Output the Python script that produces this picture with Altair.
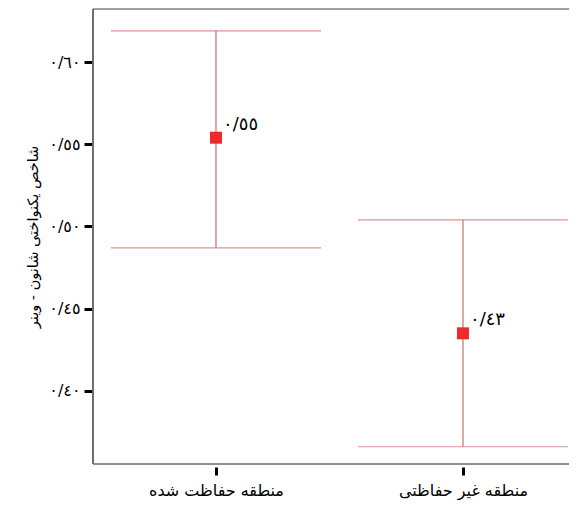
import altair as alt
import pandas as pd

categories = ["منطقه حفاظت شده", "منطقه غیر حفاظتی"]
means = [0.554, 0.435]
uppers = [0.619, 0.504]
lowers = [0.487, 0.366]
point_labels = ["٠/٥٥", "٠/٤٣"]

ytick_values = [0.40, 0.45, 0.50, 0.55, 0.60]
ytick_labels = ["٠/٤٠", "٠/٤٥", "٠/٥٠", "٠/٥٥", "٠/٦٠"]
y_title = "شاخص یکنواختی شانون - وینر"

df = pd.DataFrame({"cat": categories, "mean": means, "hi": uppers, "lo": lowers, "lab": point_labels})

label_expr = " : ".join(
    f"format(datum.value, '.2f') == '{v:.2f}' ? '{l}'" for v, l in zip(ytick_values, ytick_labels)
) + " : ''"

FONT = "DejaVu Sans"
W, H = 476, 455

x_enc = alt.X(
    "cat:N",
    sort=categories,
    scale=alt.Scale(type="point", padding=0.4636, align=0.537),
    axis=alt.Axis(
        title=None, domain=False, grid=False, labelAngle=0, offset=3,
        tickSize=8, tickWidth=3, tickColor="black", labelPadding=7,
        labelFontSize=16, labelFont=FONT, labelColor="black",
    ),
)
y_scale = alt.Scale(domain=[0.3555, 0.6323], nice=False, zero=False)

base = alt.Chart(df)

errbar = base.mark_rule(color="#c86a6a", strokeWidth=1.2).encode(
    x=x_enc,
    y=alt.Y(
        "lo:Q", scale=y_scale,
        axis=alt.Axis(
            title=y_title, values=ytick_values, labelExpr=label_expr, domain=False, grid=False,
            offset=1, tickSize=8, tickWidth=3, tickColor="black", labelPadding=4,
            labelFontSize=16, labelFont=FONT, labelColor="black",
            titleFont=FONT, titleFontSize=14.5, titleFontWeight="normal", titleColor="black",
            titlePadding=8,
        ),
    ),
    y2="hi:Q",
)
cap_hi = base.mark_tick(color="#c86a6a", size=210, thickness=1.2, orient="horizontal").encode(
    x=alt.X("cat:N", sort=categories), y=alt.Y("hi:Q", scale=y_scale))
cap_lo = base.mark_tick(color="#c86a6a", size=210, thickness=1.2, orient="horizontal").encode(
    x=alt.X("cat:N", sort=categories), y=alt.Y("lo:Q", scale=y_scale))
pts = base.mark_square(color="#ee2a2a", size=144, opacity=1).encode(
    x=alt.X("cat:N", sort=categories), y=alt.Y("mean:Q", scale=y_scale))
txt = base.mark_text(align="left", baseline="middle", dx=7, dy=-13, fontSize=18, font=FONT, color="black").encode(
    x=alt.X("cat:N", sort=categories), y=alt.Y("mean:Q", scale=y_scale), text="lab:N")

frame_top = alt.Chart(df).mark_rule(color="#999999", strokeWidth=1.5).encode(
    x=alt.value(0), x2=alt.value(W), y=alt.value(0))
frame_bot = alt.Chart(df).mark_rule(color="#888888", strokeWidth=1.5).encode(
    x=alt.value(0), x2=alt.value(W), y=alt.value(H))
frame_left = alt.Chart(df).mark_rule(color="#666666", strokeWidth=1.5).encode(
    x=alt.value(0), y=alt.value(0), y2=alt.value(H))

chart = alt.layer(errbar, cap_hi, cap_lo, pts, txt, frame_top, frame_bot, frame_left).properties(
    width=W, height=H,
    autosize=alt.AutoSizeParams(type="none"),
    padding={"left": 85, "top": 1, "right": 0, "bottom": 36},
).configure_view(strokeWidth=0).configure(background="white")

chart.save("out.html", embed_options={"renderer": "svg", "actions": False})
